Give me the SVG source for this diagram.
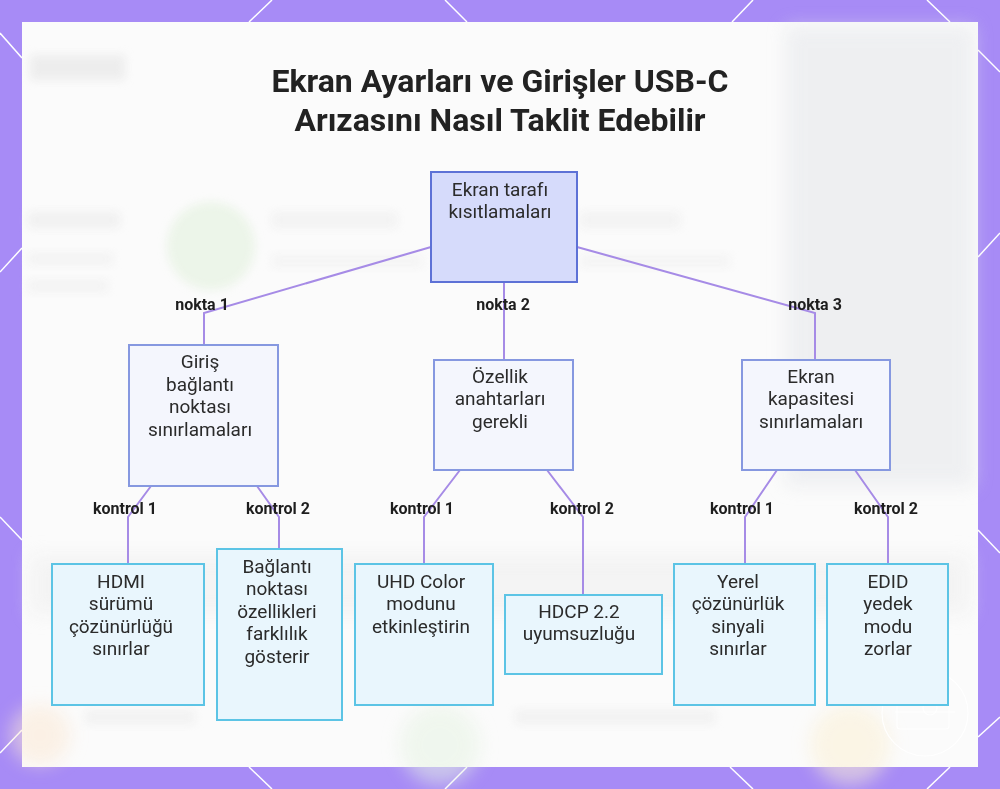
<svg xmlns="http://www.w3.org/2000/svg" width="1000" height="789" viewBox="0 0 1000 789">
<defs>
<style>
.title{font-family:Roboto,"Liberation Sans",sans-serif;font-weight:700;font-size:32px;fill:#222;text-anchor:middle}
.t{font-family:Roboto,"Liberation Sans",sans-serif;font-size:19px;fill:#2b2b2b;text-anchor:middle}
.lbl{font-family:Roboto,"Liberation Sans",sans-serif;font-weight:700;font-size:16px;fill:#1e1e1e;text-anchor:middle}
.root{fill:#d6dbfb;stroke:#5d71d6;stroke-width:2}
.mid{fill:#f4f6fd;stroke:#8698e0;stroke-width:2}
.leaf{fill:#e9f6fd;stroke:#5cc4e5;stroke-width:2}
.edge{fill:none;stroke:#a68be6;stroke-width:2}
.deco{stroke:#ffffff;stroke-width:1.5;fill:none}
</style>
<filter id="blur" x="-50%" y="-50%" width="200%" height="200%"><feGaussianBlur stdDeviation="9"/></filter>
<filter id="blur2" x="-50%" y="-50%" width="200%" height="200%"><feGaussianBlur stdDeviation="5"/></filter>
</defs>
<rect x="0" y="0" width="1000" height="789" fill="#a78bf6"/>
<g class="deco">
<line x1="249" y1="22" x2="272" y2="0"/><line x1="445" y1="0" x2="467" y2="22"/>
<line x1="732" y1="22" x2="753" y2="0"/><line x1="927" y1="0" x2="950" y2="22"/>
<line x1="249" y1="767" x2="272" y2="789"/><line x1="445" y1="789" x2="467" y2="767"/>
<line x1="730" y1="767" x2="753" y2="789"/><line x1="927" y1="789" x2="950" y2="767"/>
<line x1="0" y1="33" x2="22" y2="58"/><line x1="0" y1="272" x2="22" y2="248"/>
<line x1="0" y1="517" x2="22" y2="540"/><line x1="0" y1="753" x2="22" y2="730"/>
<line x1="978" y1="50" x2="1000" y2="72"/><line x1="978" y1="257" x2="1000" y2="233"/>
<line x1="978" y1="530" x2="1000" y2="553"/><line x1="978" y1="737" x2="1000" y2="717"/>
</g>
<rect x="22" y="22" width="956" height="745" fill="#fbfbfb"/>
<g id="backdrop" opacity="0.55">
<rect x="786" y="26" width="188" height="460" fill="#e4e6ea" filter="url(#blur)"/>
<rect x="30" y="55" width="95" height="25" fill="#e2e2e2" filter="url(#blur2)"/>
<circle cx="211" cy="246" r="44" fill="#e0f0da" filter="url(#blur2)"/>
<rect x="28" y="212" width="92" height="16" fill="#e8e8e8" filter="url(#blur2)"/>
<rect x="28" y="253" width="85" height="12" fill="#ececec" filter="url(#blur2)"/>
<rect x="28" y="280" width="80" height="12" fill="#ececec" filter="url(#blur2)"/>
<rect x="272" y="212" width="125" height="16" fill="#ececec" filter="url(#blur2)"/>
<rect x="272" y="255" width="150" height="12" fill="#eeeeee" filter="url(#blur2)"/>
<rect x="580" y="212" width="100" height="16" fill="#ececec" filter="url(#blur2)"/>
<rect x="580" y="255" width="150" height="12" fill="#eeeeee" filter="url(#blur2)"/>
<rect x="30" y="555" width="940" height="60" fill="#eeeeee" filter="url(#blur)"/>
<circle cx="40" cy="735" r="30" fill="#fbe8d4" filter="url(#blur)"/>
<circle cx="440" cy="745" r="40" fill="#e6f3e3" filter="url(#blur)"/>
<circle cx="850" cy="745" r="40" fill="#fbf0d4" filter="url(#blur)"/>
<rect x="85" y="710" width="110" height="14" fill="#eaeaea" filter="url(#blur2)"/>
<rect x="515" y="710" width="200" height="14" fill="#eaeaea" filter="url(#blur2)"/>
</g>
<g id="watermark" fill="none" stroke="#ffffff" stroke-width="1.2" opacity="0.9">
<circle cx="925" cy="713" r="43"/>
<rect x="897" y="693" width="52" height="36" rx="3"/>
<circle cx="930" cy="708" r="7"/>
<line x1="895" y1="712" x2="955" y2="712"/>
</g>
<text class="title" x="500" y="92">Ekran Ayarları ve Girişler USB-C</text>
<text class="title" x="500" y="131">Arızasını Nasıl Taklit Edebilir</text>
<g id="connectors">
<polyline class="edge" points="431,247 204,313 204,345"/>
<polyline class="edge" points="504,282 504,360"/>
<polyline class="edge" points="577,247 815,313 815,360"/>
<polyline class="edge" points="151,486 128,517 128,564"/>
<polyline class="edge" points="257,486 279,517 279,549"/>
<polyline class="edge" points="460,470 424,517 424,564"/>
<polyline class="edge" points="547,470 583,517 583,595"/>
<polyline class="edge" points="777,470 745,517 745,564"/>
<polyline class="edge" points="855,470 888,517 888,564"/>
<text class="lbl" x="202" y="310">nokta 1</text>
<text class="lbl" x="503" y="310">nokta 2</text>
<text class="lbl" x="815" y="310">nokta 3</text>
<text class="lbl" x="125" y="514">kontrol 1</text>
<text class="lbl" x="278" y="514">kontrol 2</text>
<text class="lbl" x="422" y="514">kontrol 1</text>
<text class="lbl" x="582" y="514">kontrol 2</text>
<text class="lbl" x="742" y="514">kontrol 1</text>
<text class="lbl" x="886" y="514">kontrol 2</text>
</g>
<g id="n-root">
<rect class="root" x="431" y="172" width="146" height="110"/>
<text class="t" x="500" y="196">Ekran tarafı</text>
<text class="t" x="500" y="218">kısıtlamaları</text>
</g>
<g id="n-giris">
<rect class="mid" x="129" y="345" width="149" height="141"/>
<text class="t" x="200" y="368">Giriş</text>
<text class="t" x="200" y="391">bağlantı</text>
<text class="t" x="200" y="413">noktası</text>
<text class="t" x="200" y="436">sınırlamaları</text>
</g>
<g id="n-ozellik">
<rect class="mid" x="434" y="360" width="139" height="110"/>
<text class="t" x="500" y="383">Özellik</text>
<text class="t" x="500" y="405">anahtarları</text>
<text class="t" x="500" y="428">gerekli</text>
</g>
<g id="n-kapasite">
<rect class="mid" x="742" y="360" width="148" height="110"/>
<text class="t" x="811" y="383">Ekran</text>
<text class="t" x="811" y="405">kapasitesi</text>
<text class="t" x="811" y="428">sınırlamaları</text>
</g>
<g id="n-hdmi">
<rect class="leaf" x="52" y="564" width="152" height="141"/>
<text class="t" x="121" y="588">HDMI</text>
<text class="t" x="121" y="610">sürümü</text>
<text class="t" x="121" y="633">çözünürlüğü</text>
<text class="t" x="121" y="655">sınırlar</text>
</g>
<g id="n-baglanti">
<rect class="leaf" x="217" y="549" width="125" height="171"/>
<text class="t" x="277" y="573">Bağlantı</text>
<text class="t" x="277" y="595">noktası</text>
<text class="t" x="277" y="618">özellikleri</text>
<text class="t" x="277" y="640">farklılık</text>
<text class="t" x="277" y="663">gösterir</text>
</g>
<g id="n-uhd">
<rect class="leaf" x="355" y="564" width="138" height="141"/>
<text class="t" x="421" y="588">UHD Color</text>
<text class="t" x="421" y="610">modunu</text>
<text class="t" x="421" y="633">etkinleştirin</text>
</g>
<g id="n-hdcp">
<rect class="leaf" x="505" y="595" width="157" height="79"/>
<text class="t" x="579" y="618">HDCP 2.2</text>
<text class="t" x="579" y="640">uyumsuzluğu</text>
</g>
<g id="n-yerel">
<rect class="leaf" x="674" y="564" width="141" height="141"/>
<text class="t" x="738" y="588">Yerel</text>
<text class="t" x="738" y="610">çözünürlük</text>
<text class="t" x="738" y="633">sinyali</text>
<text class="t" x="738" y="655">sınırlar</text>
</g>
<g id="n-edid">
<rect class="leaf" x="827" y="564" width="121" height="141"/>
<text class="t" x="888" y="588">EDID</text>
<text class="t" x="888" y="610">yedek</text>
<text class="t" x="888" y="633">modu</text>
<text class="t" x="888" y="655">zorlar</text>
</g>
</svg>
